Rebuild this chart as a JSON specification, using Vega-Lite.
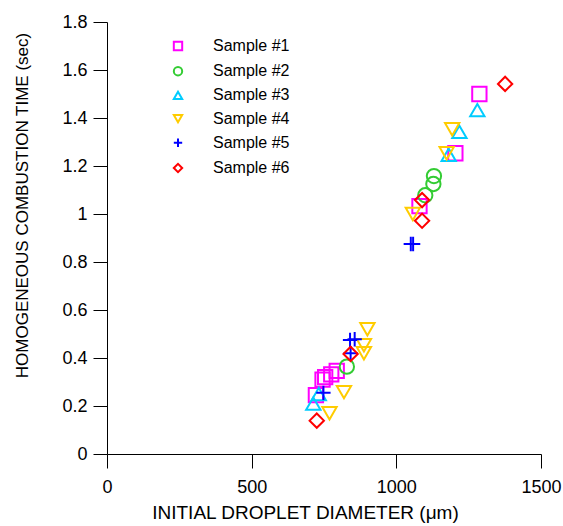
{
  "$schema": "https://vega.github.io/schema/vega-lite/v6.json",
  "width": 434,
  "height": 432,
  "autosize": {"type": "none"},
  "padding": {"left": 107, "top": 22, "right": 22, "bottom": 72},
  "background": "white",
  "config": {
    "view": {"stroke": null},
    "font": "Liberation Sans",
    "axis": {
      "grid": false,
      "domainColor": "black",
      "tickColor": "black",
      "domainWidth": 1,
      "tickWidth": 1,
      "tickSize": 14,
      "labelColor": "black",
      "titleColor": "black",
      "labelFont": "Liberation Sans",
      "titleFont": "Liberation Sans",
      "labelFontSize": 18,
      "titleFontSize": 18,
      "titleFontWeight": "normal"
    },
    "legend": {
      "labelFont": "Liberation Sans",
      "labelFontSize": 16,
      "labelColor": "black"
    }
  },
  "data": {
    "values": [
      {"d": 722, "t": 0.245, "s": "Sample #1"},
      {"d": 745, "t": 0.31, "s": "Sample #1"},
      {"d": 754, "t": 0.32, "s": "Sample #1"},
      {"d": 775, "t": 0.332, "s": "Sample #1"},
      {"d": 794, "t": 0.346, "s": "Sample #1"},
      {"d": 1080, "t": 1.033, "s": "Sample #1"},
      {"d": 1204, "t": 1.253, "s": "Sample #1"},
      {"d": 1287, "t": 1.5, "s": "Sample #1"},
      {"d": 829, "t": 0.364, "s": "Sample #2"},
      {"d": 1100, "t": 1.078, "s": "Sample #2"},
      {"d": 1128, "t": 1.125, "s": "Sample #2"},
      {"d": 1130, "t": 1.158, "s": "Sample #2"},
      {"d": 713, "t": 0.21, "s": "Sample #3"},
      {"d": 732, "t": 0.25, "s": "Sample #3"},
      {"d": 1181, "t": 1.247, "s": "Sample #3"},
      {"d": 1218, "t": 1.342, "s": "Sample #3"},
      {"d": 1280, "t": 1.433, "s": "Sample #3"},
      {"d": 769, "t": 0.17, "s": "Sample #4"},
      {"d": 819, "t": 0.258, "s": "Sample #4"},
      {"d": 888, "t": 0.42, "s": "Sample #4"},
      {"d": 888, "t": 0.453, "s": "Sample #4"},
      {"d": 900, "t": 0.52, "s": "Sample #4"},
      {"d": 1057, "t": 1.0, "s": "Sample #4"},
      {"d": 1174, "t": 1.253, "s": "Sample #4"},
      {"d": 1193, "t": 1.353, "s": "Sample #4"},
      {"d": 748, "t": 0.255, "s": "Sample #5"},
      {"d": 842, "t": 0.42, "s": "Sample #5"},
      {"d": 840, "t": 0.475, "s": "Sample #5"},
      {"d": 856, "t": 0.478, "s": "Sample #5"},
      {"d": 1050, "t": 0.875, "s": "Sample #5"},
      {"d": 1058, "t": 0.875, "s": "Sample #5"},
      {"d": 725, "t": 0.139, "s": "Sample #6"},
      {"d": 842, "t": 0.417, "s": "Sample #6"},
      {"d": 1089, "t": 0.972, "s": "Sample #6"},
      {"d": 1089, "t": 1.058, "s": "Sample #6"},
      {"d": 1376, "t": 1.542, "s": "Sample #6"}
    ]
  },
  "mark": {"type": "point", "filled": false, "strokeWidth": 2, "opacity": 1, "size": 205},
  "encoding": {
    "x": {
      "field": "d",
      "type": "quantitative",
      "scale": {"domain": [0, 1500], "nice": false, "zero": false},
      "axis": {
        "values": [0, 500, 1000, 1500],
        "format": "d",
        "title": "INITIAL DROPLET DIAMETER (μm)",
        "titleFontSize": 19,
        "titleX": 198,
        "labelPadding": 10,
        "titlePadding": 7,
        "labelFlush": false
      }
    },
    "y": {
      "field": "t",
      "type": "quantitative",
      "scale": {"domain": [0, 1.8], "nice": false},
      "axis": {
        "values": [0, 0.2, 0.4, 0.6, 0.8, 1, 1.2, 1.4, 1.6, 1.8],
        "format": "~g",
        "title": "HOMOGENEOUS COMBUSTION TIME (sec)",
        "titleFontSize": 17,
        "titleY": 183,
        "labelPadding": 6,
        "titlePadding": 30,
        "labelFlush": false
      }
    },
    "color": {
      "field": "s",
      "type": "nominal",
      "scale": {
        "domain": ["Sample #1", "Sample #2", "Sample #3", "Sample #4", "Sample #5", "Sample #6"],
        "range": ["#FF00FF", "#33CC33", "#00CCFF", "#FFCC00", "#0000FF", "#FF0000"]
      },
      "legend": {
        "title": null,
        "orient": "none",
        "legendX": 63,
        "legendY": 16,
        "symbolSize": 70,
        "symbolStrokeWidth": 2,
        "labelOffset": 27,
        "rowPadding": 7.2,
        "padding": 0
      }
    },
    "shape": {
      "field": "s",
      "type": "nominal",
      "scale": {
        "domain": ["Sample #1", "Sample #2", "Sample #3", "Sample #4", "Sample #5", "Sample #6"],
        "range": ["square", "circle", "triangle-up", "triangle-down", "M-1,0H1M0,-1V1", "diamond"]
      }
    }
  }
}
